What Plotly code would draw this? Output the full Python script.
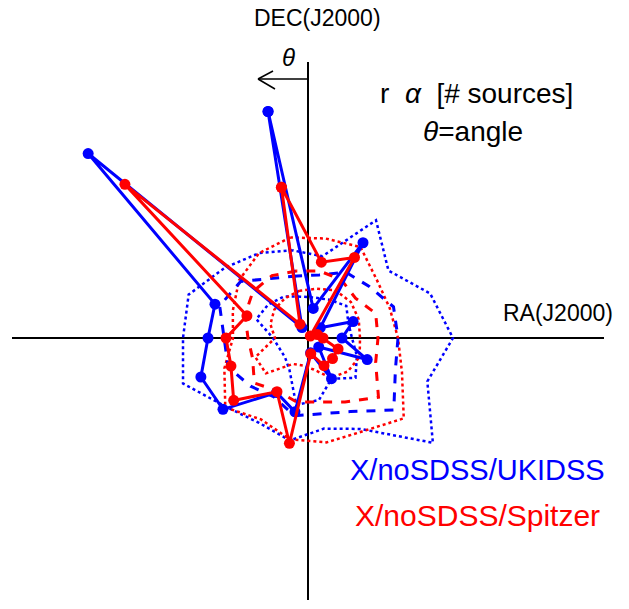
import numpy as np
import plotly.graph_objects as go

# angle bins (deg, measured from North towards East/left)
theta_deg = [10, 30, 50, 70, 90, 110, 130, 150, 170, 190, 210, 230, 250, 270, 290, 310, 330, 350]

# radii ~ number of sources per angular bin
ukidss_solid = [23.0, 1.2, 28.7, 9.9, 10.0, 11.4, 11.1, 6.3, 7.5, 1.5, 4.7, 1.4, 6.3, 3.4, 4.8, 1.6, 11.0, 3.0]
spitzer_solid = [15.3, 1.6, 23.9, 6.5, 8.2, 8.2, 9.7, 6.2, 10.7, 1.6, 3.2, 3.2, 3.2, 1.5, 1.0, 0.3, 9.3, 7.7]
ukidss_dashed = [6.3, 6.9, 8.8, 9.4, 8.4, 8.5, 7.5, 6.8, 7.9, 7.7, 8.5, 11.2, 9.3, 9.0, 9.1, 8.0, 7.6, 6.4]
spitzer_dashed = [6.8, 7.2, 7.2, 6.7, 6.0, 5.9, 7.0, 6.1, 6.5, 6.5, 7.4, 9.2, 7.2, 7.0, 7.2, 6.2, 6.7, 6.8]
ukidss_dotted = [8.9, 9.8, 10.9, 12.7, 12.5, 13.3, 10.7, 9.8, 10.4, 9.2, 10.5, 16.3, 12.7, 14.5, 13.0, 10.5, 13.6, 8.3]
spitzer_dotted = [10.2, 9.8, 9.0, 8.0, 7.5, 8.9, 10.8, 9.4, 10.3, 10.6, 10.8, 12.5, 10.0, 9.0, 8.7, 9.0, 10.5, 10.1]
ukidss_inner = [4.2, 4.8, 5.2, 5.5, 3.5, 3.0, 3.0, 3.7, 6.8, 6.3, 4.7, 6.2, 5.2, 4.4, 4.3, 5.0, 4.4, 4.1]
spitzer_inner = [4.8, 4.6, 4.4, 4.0, 3.3, 5.6, 5.5, 3.0, 2.8, 3.2, 4.6, 5.2, 5.5, 5.2, 5.4, 5.6, 5.5, 5.0]

BLUE = "#0000ff"
RED = "#ff0000"

W, H = 629, 609
ML, MR, MT, MB = 12, 25, 62, 9
PW, PH = W - ML - MR, H - MT - MB


def to_xy(r):
    th = np.radians(np.array(theta_deg + theta_deg[:1], dtype=float))
    rr = np.array(list(r) + [r[0]], dtype=float)
    return -rr * np.sin(th), rr * np.cos(th)


def px(x, y):
    return (x - ML) / PW, (H - MB - y) / PH


fig = go.Figure()

series = [
    (ukidss_dotted, BLUE, "dot", 2.5, False),
    (spitzer_dotted, RED, "dot", 2.5, False),
    (ukidss_inner, BLUE, "dot", 2.5, False),
    (spitzer_inner, RED, "dot", 2.5, False),
    (ukidss_dashed, BLUE, "dash", 3, False),
    (spitzer_dashed, RED, "dash", 3, False),
    (ukidss_solid, BLUE, "solid", 3, True),
    (spitzer_solid, RED, "solid", 3, True),
]
for r, col, dash, w, mk in series:
    x, y = to_xy(r)
    fig.add_trace(go.Scatter(
        x=x, y=y, mode="lines+markers" if mk else "lines",
        line=dict(color=col, width=w, dash=dash),
        marker=dict(color=col, size=11) if mk else None,
        showlegend=False, hoverinfo="skip", cliponaxis=False,
    ))

ann = []
def text(t, xp, yp, size, color="black", xa="center", font="Liberation Sans"):
    x, y = px(xp, yp)
    ann.append(dict(text=t, x=x, y=y, xref="paper", yref="paper", showarrow=False,
                    xanchor=xa, yanchor="middle",
                    font=dict(family=font, size=size, color=color)))

text("DEC(J2000)", 317, 18, 23)
text("RA(J2000)", 558, 313, 23)
text("r  <i>α</i>  [# sources]", 476, 93, 28)
text("<i>θ</i>=angle", 473, 131, 28)
text("<i>θ</i>", 288, 58, 24)
text("X/noSDSS/UKIDSS", 477, 470, 29, BLUE)
text("X/noSDSS/Spitzer", 477, 515, 30, RED)

shapes = []
def seg(x0, y0, x1, y1, w=1.5):
    a0, b0 = px(x0, y0)
    a1, b1 = px(x1, y1)
    shapes.append(dict(type="line", xref="paper", yref="paper", x0=a0, y0=b0, x1=a1, y1=b1,
                       line=dict(color="black", width=w)))

seg(308, 79, 258, 79)
seg(258, 79, 273, 71)
seg(258, 79, 275, 89)

fig.update_layout(
    width=W, height=H, margin=dict(l=ML, r=MR, t=MT, b=MB),
    paper_bgcolor="white", plot_bgcolor="white",
    xaxis=dict(range=[-29.6, 29.6], showgrid=False, showticklabels=False, ticks="",
               zeroline=True, zerolinecolor="black", zerolinewidth=1.5, showline=False,
               layer="above traces"),
    yaxis=dict(range=[-26.2, 27.6], showgrid=False, showticklabels=False, ticks="",
               zeroline=True, zerolinecolor="black", zerolinewidth=1.5, showline=False,
               layer="above traces"),
    annotations=ann, shapes=shapes,
)

fig.write_html("out.html")
